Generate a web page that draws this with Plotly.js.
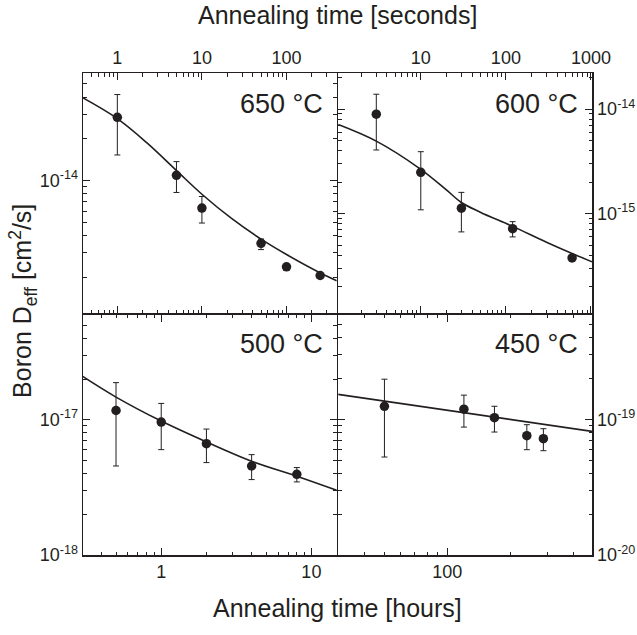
<!DOCTYPE html>
<html>
<head>
<meta charset="utf-8">
<script src="https://cdn.plot.ly/plotly-3.0.1.min.js"></script>
<style>html,body{margin:0;padding:0;background:#fff;}#chart{width:637px;height:635px;}</style>
</head>
<body>
<div id="chart"></div>
<script>
// ---- 650 °C (time in seconds) ----
const t650_s   = [1, 5, 10, 50, 100, 250];
const D650     = [2.86e-14, 1.09e-14, 6.32e-15, 3.52e-15, 2.38e-15, 2.06e-15];
const D650_hi  = [4.18e-14, 1.37e-14, 7.67e-15, 3.78e-15, 2.38e-15, 2.06e-15];
const D650_lo  = [1.53e-14, 8.2e-15, 4.93e-15, 3.17e-15, 2.38e-15, 2.06e-15];
const fit650_t = [0.393, 1, 2.24, 5.01, 10, 22.4, 50.1, 100, 251, 393];
const fit650_D = [3.95e-14, 2.80e-14, 1.87e-14, 1.18e-14, 7.96e-15, 5.32e-15, 3.77e-15, 2.92e-15, 2.15e-15, 1.89e-15];

// ---- 600 °C (time in seconds) ----
const t600_s   = [3, 10, 30, 120, 600];
const D600     = [8.96e-15, 2.49e-15, 1.13e-15, 7.2e-16, 3.78e-16];
const D600_hi  = [1.39e-14, 3.92e-15, 1.6e-15, 8.4e-16, 3.78e-16];
const D600_lo  = [4.07e-15, 1.09e-15, 6.7e-16, 6.0e-16, 3.78e-16];
const fit600_t = [1.07, 3, 10, 20, 30, 50, 120, 300, 600, 1030];
const fit600_D = [7.14e-15, 4.95e-15, 2.66e-15, 1.69e-15, 1.28e-15, 1.035e-15, 7.57e-16, 5.33e-16, 4.16e-16, 3.47e-16];

// ---- 500 °C (time in hours) ----
const t500_h   = [0.5, 1, 2, 4, 8];
const D500     = [1.17e-17, 9.61e-18, 6.65e-18, 4.55e-18, 3.95e-18];
const D500_hi  = [1.88e-17, 1.32e-17, 8.53e-18, 5.52e-18, 4.43e-18];
const D500_lo  = [4.55e-18, 6.01e-18, 4.82e-18, 3.61e-18, 3.47e-18];
const fit500_t = [0.30, 0.5, 1, 2, 4, 8, 15.1];
const fit500_D = [2.09e-17, 1.47e-17, 9.77e-18, 6.85e-18, 4.93e-18, 3.82e-18, 2.98e-18];

// ---- 450 °C (time in hours) ----
const t450_h   = [50, 120, 168, 240, 288];
const D450     = [1.25e-19, 1.19e-19, 1.03e-19, 7.58e-20, 7.21e-20];
const D450_hi  = [1.98e-19, 1.51e-19, 1.25e-19, 9.14e-20, 8.54e-20];
const D450_lo  = [5.28e-20, 8.78e-20, 8.07e-20, 5.98e-20, 5.88e-20];
const fit450_t = [30, 493];
const fit450_D = [1.53e-19, 8.16e-20];

const panelLabels = ['650 °C', '600 °C', '500 °C', '450 °C'];

const INK = '#231f20';
const FONT = '"Liberation Sans", Arial, sans-serif';

function pts(x, y, hi, lo, xa, ya) {
  return {
    x: x, y: y, xaxis: xa, yaxis: ya, type: 'scatter', mode: 'markers',
    marker: {size: 9.5, color: INK},
    error_y: {type: 'data', symmetric: false,
      array: y.map((v, i) => hi[i] - v),
      arrayminus: y.map((v, i) => v - lo[i]),
      thickness: 1, width: 3, color: INK},
    showlegend: false, hoverinfo: 'skip'
  };
}
function fit(x, y, xa, ya) {
  return {x: x, y: y, xaxis: xa, yaxis: ya, type: 'scatter', mode: 'lines',
    line: {color: INK, width: 1.6, shape: 'spline', smoothing: 1}, showlegend: false, hoverinfo: 'skip'};
}

function decadeTicks(lo, hi) {
  const major = [], minor = [];
  for (let e = lo; e <= hi; e++) {
    major.push(Math.pow(10, e));
    for (let m = 2; m <= 9; m++) minor.push(m * Math.pow(10, e));
  }
  return {major, minor};
}
function expLabel(v) {
  const e = Math.round(Math.log10(v));
  return '10<sup>' + e + '</sup>';
}

function logAxis(opts) {
  const tk = decadeTicks(opts.elo, opts.ehi);
  return {
    type: 'log', range: opts.range, domain: opts.domain, anchor: opts.anchor,
    side: opts.side, showgrid: false, zeroline: false,
    showline: true, linecolor: INK, linewidth: 1.5, mirror: 'ticks',
    ticks: 'inside', ticklen: 7, tickwidth: 1, tickcolor: INK,
    tickmode: 'array', tickvals: tk.major,
    ticktext: tk.major.map(opts.labelFn),
    tickfont: {family: FONT, size: 18, color: INK},
    minor: {tickmode: 'array', tickvals: tk.minor, ticks: 'inside', ticklen: 3.5, tickwidth: 1, tickcolor: INK, showgrid: false},
    fixedrange: true
  };
}

const data = [
  fit(fit650_t, fit650_D, 'x', 'y'),
  pts(t650_s, D650, D650_hi, D650_lo, 'x', 'y'),
  fit(fit600_t, fit600_D, 'x2', 'y2'),
  pts(t600_s, D600, D600_hi, D600_lo, 'x2', 'y2'),
  fit(fit500_t, fit500_D, 'x3', 'y3'),
  pts(t500_h, D500, D500_hi, D500_lo, 'x3', 'y3'),
  fit(fit450_t, fit450_D, 'x4', 'y4'),
  pts(t450_h, D450, D450_hi, D450_lo, 'x4', 'y4')
];

const numLabel = v => String(Math.round(v));

function panelLabel(text, xr, yr, yshiftPx) {
  return {text: text, xref: xr + ' domain', yref: yr + ' domain', x: 1, y: 1,
    xanchor: 'right', yanchor: 'middle', xshift: -12, yshift: yshiftPx,
    showarrow: false, font: {family: FONT, size: 27, color: INK}};
}

// half-line gap so the shared inner frame lines coincide
const gx = 0.75 / 509, gy = 0.75 / 482;
const L = [0, 0.5 - gx], R = [0.5 + gx, 1], B = [0, 0.5 - gy], T = [0.5 + gy, 1];

const layout = {
  width: 637, height: 635,
  margin: {l: 83, r: 45, t: 73, b: 80},
  paper_bgcolor: '#ffffff', plot_bgcolor: '#ffffff',
  font: {family: FONT, color: INK},
  showlegend: false,
  xaxis:  logAxis({range: [-0.406, 2.594], domain: L, anchor: 'y', side: 'top', elo: -1, ehi: 3, labelFn: numLabel}),
  yaxis:  logAxis({range: [-14.959, -13.223], domain: T, anchor: 'x', side: 'left', elo: -16, ehi: -13, labelFn: expLabel}),
  xaxis2: logAxis({range: [0.03, 3.012], domain: R, anchor: 'y2', side: 'top', elo: 0, ehi: 3, labelFn: numLabel}),
  yaxis2: logAxis({range: [-15.952, -13.654], domain: T, anchor: 'x2', side: 'right', elo: -16, ehi: -13, labelFn: expLabel}),
  xaxis3: logAxis({range: [-0.521, 1.169], domain: L, anchor: 'y3', side: 'bottom', elo: -1, ehi: 1, labelFn: numLabel}),
  yaxis3: logAxis({range: [-18, -16.224], domain: B, anchor: 'x3', side: 'left', elo: -18, ehi: -16, labelFn: expLabel}),
  xaxis4: logAxis({range: [1.478, 2.692], domain: R, anchor: 'y4', side: 'bottom', elo: 1, ehi: 2, labelFn: numLabel}),
  yaxis4: logAxis({range: [-20, -18.228], domain: B, anchor: 'x4', side: 'right', elo: -20, ehi: -18, labelFn: expLabel}),
  annotations: [
    panelLabel(panelLabels[0], 'x', 'y', -31),
    panelLabel(panelLabels[1], 'x2', 'y2', -31),
    panelLabel(panelLabels[2], 'x3', 'y3', -29),
    panelLabel(panelLabels[3], 'x4', 'y4', -29),
    {text: 'Annealing time [seconds]', xref: 'paper', yref: 'paper', x: 0.5, y: 1.12,
     xanchor: 'center', yanchor: 'middle', showarrow: false, font: {family: FONT, size: 25, color: INK}},
    {text: 'Annealing time [hours]', xref: 'paper', yref: 'paper', x: 0.5, y: -0.110,
     xanchor: 'center', yanchor: 'middle', showarrow: false, font: {family: FONT, size: 25, color: INK}},
    {text: 'Boron D<sub>eff</sub> [cm<sup>2</sup>/s]', xref: 'paper', yref: 'paper', x: -0.118, y: 0.527,
     xanchor: 'center', yanchor: 'middle', textangle: -90, showarrow: false, font: {family: FONT, size: 25, color: INK}}
  ]
};

Plotly.newPlot('chart', data, layout, {displayModeBar: false, staticPlot: true});
</script>
</body>
</html>
